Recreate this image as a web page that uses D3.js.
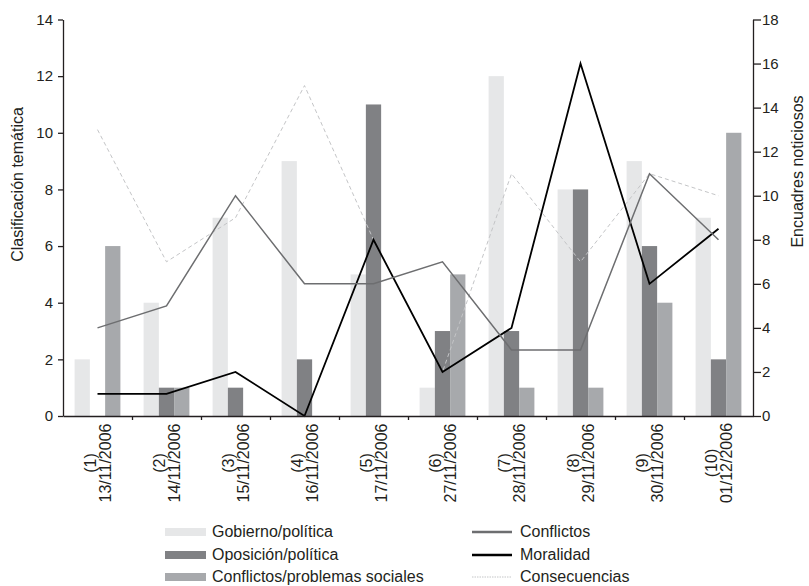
<!DOCTYPE html>
<html>
<head>
<meta charset="utf-8">
<script src="https://cdn.jsdelivr.net/npm/d3@7"></script>
<style>
body { margin: 0; background: #fff; }
text { font-family: "Liberation Sans", Arial, sans-serif; fill: #231f20; }
.axis path, .axis line { stroke: #231f20; stroke-width: 1.3; }
</style>
</head>
<body>
<script>
// categories (two-line tick labels)
var numbers = ["(1)", "(2)", "(3)", "(4)", "(5)", "(6)", "(7)", "(8)", "(9)", "(10)"];
var dates = ["13/11/2006", "14/11/2006", "15/11/2006", "16/11/2006", "17/11/2006",
             "27/11/2006", "28/11/2006", "29/11/2006", "30/11/2006", "01/12/2006"];

// bars, left axis (Clasificación temática)
var gobierno   = [2, 4, 7, 9, 5, 1, 12, 8, 9, 7];
var oposicion  = [0, 1, 1, 2, 11, 3, 3, 8, 6, 2];
var sociales   = [6, 1, 0, 0, 0, 5, 1, 1, 4, 10];

// lines, right axis (Encuadres noticiosos)
var conflictos    = [4, 5, 10, 6, 6, 7, 3, 3, 11, 8];
var moralidad     = [1, 1, 2, 0, 8, 2, 4, 16, 6, 8.5];
var consecuencias = [13, 7, 9, 15, 8, 2, 11, 7, 11, 10];

var leftTicks  = [0, 2, 4, 6, 8, 10, 12, 14];
var rightTicks = [0, 2, 4, 6, 8, 10, 12, 14, 16, 18];

var barSeries = [
    {name: "Gobierno/política", values: gobierno, color: "#e6e7e8"},
    {name: "Oposición/política", values: oposicion, color: "#808184"},
    {name: "Conflictos/problemas sociales", values: sociales, color: "#a7a9ac"}
];
var lineSeries = [
    {name: "Conflictos", values: conflictos, color: "#6d6e70", width: 1.5, dash: null},
    {name: "Moralidad", values: moralidad, color: "#000000", width: 1.8, dash: null},
    {name: "Consecuencias", values: consecuencias, color: "#c4c5c7", width: 1, dash: "4,3"}
];

var margin = {top: 19.5, right: 56, bottom: 170, left: 63},
    width = 809 - margin.left - margin.right,
    height = 586 - margin.top - margin.bottom;

var svg = d3.select("body")
    .append("svg")
        .attr("width", 809)
        .attr("height", 586)
    .append("g")
        .attr("transform", "translate(" + margin.left + "," + margin.top + ")");

// scales
var x0 = d3.scaleBand().domain(d3.range(numbers.length)).range([0, width]).padding(0);
var x1 = d3.scaleBand().domain(d3.range(barSeries.length)).range([0, x0.bandwidth()])
    .paddingInner(0).paddingOuter(0.76);
var y = d3.scaleLinear().domain([0, 14]).range([height, 0]);
var y2 = d3.scaleLinear().domain([0, 18]).range([height, 0]);

// bars
barSeries.forEach(function(s, si) {
    svg.append("g")
        .selectAll("rect")
        .data(s.values)
        .enter()
        .append("rect")
            .attr("x", function(d, i) { return x0(i) + x1(si); })
            .attr("y", function(d) { return y(d); })
            .attr("width", x1.bandwidth())
            .attr("height", function(d) { return height - y(d); })
            .style("fill", s.color);
});

// lines
var valueline = d3.line()
    .x(function(d, i) { return x0(i) + x0.bandwidth() / 2; })
    .y(function(d) { return y2(d); });

lineSeries.slice().reverse().forEach(function(s) {
    svg.append("path")
        .attr("d", valueline(s.values))
        .style("fill", "none")
        .style("stroke", s.color)
        .style("stroke-width", s.width)
        .style("stroke-dasharray", s.dash);
});

// axes
var yAxis = d3.axisLeft(y).tickValues(leftTicks).tickSize(5).tickSizeOuter(0).tickPadding(5);
var y2Axis = d3.axisRight(y2).tickValues(rightTicks).tickSize(8).tickSizeOuter(0).tickPadding(1);
var xb = d3.scaleLinear().domain([0, numbers.length]).range([0, width]);
var xAxis = d3.axisBottom(xb).tickValues(d3.range(1, numbers.length)).tickSize(4)
    .tickSizeOuter(0).tickFormat("");

svg.append("g").attr("class", "axis")
    .attr("transform", "translate(0," + height + ")").call(xAxis);
svg.append("g").attr("class", "axis").call(yAxis)
    .selectAll("text").style("font-size", "15px");
svg.append("g").attr("class", "axis")
    .attr("transform", "translate(" + width + ",0)").call(y2Axis)
    .selectAll("text").style("font-size", "15px");

// category labels, rotated
var labels = svg.append("g")
    .selectAll("text")
    .data(numbers)
    .enter()
    .append("text")
        .attr("transform", function(d, i) {
            return "translate(" + (x0(i) + x0.bandwidth() / 2) + "," + (height + 47) + ") rotate(-90)";
        })
        .style("text-anchor", "middle")
        .style("font-size", "16px");
labels.append("tspan").attr("x", 0).attr("y", -2).text(function(d) { return d; });
labels.append("tspan").attr("x", 0).attr("y", 13).text(function(d, i) { return dates[i]; });

// axis titles
svg.append("text")
    .attr("transform", "translate(" + (23 - margin.left) + "," + 165 + ") rotate(-90)")
    .style("text-anchor", "middle")
    .style("font-size", "16px")
    .text("Clasificación temática");

svg.append("text")
    .attr("transform", "translate(" + (width + 50) + "," + 152 + ") rotate(-90)")
    .style("text-anchor", "middle")
    .style("font-size", "16px")
    .text("Encuadres noticiosos");

// legend
var legend = d3.select("svg").append("g");
var rowY = [537, 560, 582];

barSeries.forEach(function(s, i) {
    legend.append("rect")
        .attr("x", 165).attr("y", rowY[i] - 9)
        .attr("width", 41).attr("height", 8)
        .style("fill", s.color);
    legend.append("text")
        .attr("x", 212).attr("y", rowY[i])
        .style("font-size", "16px")
        .text(s.name);
});

lineSeries.forEach(function(s, i) {
    legend.append("line")
        .attr("x1", 472).attr("x2", 512)
        .attr("y1", rowY[i] - 5).attr("y2", rowY[i] - 5)
        .style("stroke", s.color)
        .style("stroke-width", s.dash ? 1 : 2.5)
        .style("stroke-dasharray", s.dash ? "1.5,1" : null);
    legend.append("text")
        .attr("x", 520).attr("y", rowY[i])
        .style("font-size", "16px")
        .text(s.name);
});
</script>
</body>
</html>
